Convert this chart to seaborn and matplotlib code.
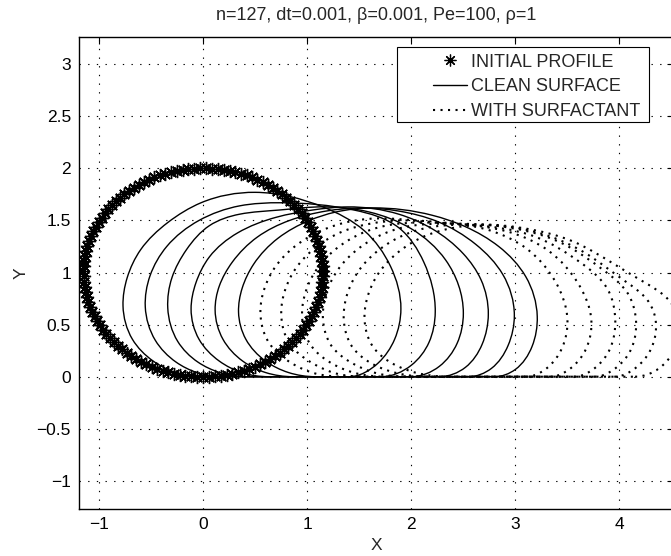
import numpy as np
import matplotlib
matplotlib.use("Agg")
import matplotlib.pyplot as plt
import seaborn as sns
from matplotlib.path import Path
from matplotlib.patches import PathPatch, Rectangle
from matplotlib.lines import Line2D

# ---- data -------------------------------------------------------------
N_POINTS = 127
PROFILE_HALF_WIDTH = 1.15     # horizontal half-width of the initial drop
PROFILE_HEIGHT = 2.0          # drop height

# Drop outlines: each runs counter-clockwise from the front end of the
# wall contact (y = 0) over the drop to the rear end of the contact.
CLEAN_X = [
    [1.40, 1.68, 1.84, 1.90, 1.80, 1.55, 1.15, 0.50, -0.02, -0.34, -0.60, -0.73, -0.77, -0.68, -0.48, -0.26, 0.00],
    [1.71, 2.00, 2.17, 2.23, 2.12, 1.88, 1.45, 0.75, 0.35, -0.04, -0.35, -0.51, -0.556, -0.46, -0.26, -0.06, 0.20],
    [2.00, 2.27, 2.44, 2.50, 2.33, 2.00, 1.60, 1.10, 0.73, 0.35, 0.06, -0.16, -0.30, -0.34, -0.245, -0.05, 0.16, 0.42],
    [2.27, 2.52, 2.68, 2.74, 2.67, 2.50, 2.20, 1.88, 1.39, 1.05, 0.70, 0.33, 0.06, -0.07, -0.116, -0.04, 0.155, 0.37, 0.634],
    [2.55, 2.77, 2.93, 2.99, 2.88, 2.62, 2.25, 1.88, 1.53, 1.18, 0.83, 0.52, 0.28, 0.155, 0.115, 0.19, 0.38, 0.60, 0.865],
    [2.80, 3.00, 3.16, 3.21, 3.10, 2.84, 2.52, 2.20, 1.63, 1.27, 1.02, 0.72, 0.485, 0.375, 0.34, 0.41, 0.60, 0.82, 1.08],
]
CLEAN_Y = [
    [0.0, 0.13, 0.36, 0.65, 1.06, 1.40, 1.63, 1.77, 1.67, 1.48, 1.22, 0.95, 0.68, 0.36, 0.15, 0.04, 0.0],
    [0.0, 0.11, 0.33, 0.62, 1.10, 1.43, 1.60, 1.67, 1.64, 1.50, 1.25, 0.97, 0.67, 0.35, 0.14, 0.04, 0.0],
    [0.0, 0.10, 0.32, 0.61, 1.12, 1.42, 1.58, 1.63, 1.60, 1.56, 1.45, 1.22, 0.95, 0.66, 0.34, 0.14, 0.04, 0.0],
    [0.0, 0.09, 0.31, 0.60, 0.93, 1.18, 1.42, 1.56, 1.63, 1.60, 1.53, 1.38, 1.15, 0.90, 0.65, 0.36, 0.15, 0.04, 0.0],
    [0.0, 0.08, 0.30, 0.59, 0.98, 1.27, 1.49, 1.59, 1.62, 1.59, 1.50, 1.34, 1.10, 0.87, 0.64, 0.36, 0.15, 0.04, 0.0],
    [0.0, 0.07, 0.29, 0.58, 0.96, 1.25, 1.44, 1.55, 1.62, 1.58, 1.50, 1.33, 1.08, 0.85, 0.62, 0.36, 0.15, 0.04, 0.0],
]

SURF_X = [
    [3.10, 3.30, 3.45, 3.50, 3.38, 3.12, 2.70, 2.05, 1.70, 1.41, 1.13, 0.88, 0.69, 0.59, 0.55, 0.63, 0.85, 1.08, 1.38],
    [3.33, 3.53, 3.68, 3.73, 3.60, 3.33, 2.90, 2.25, 1.90, 1.61, 1.33, 1.08, 0.89, 0.79, 0.75, 0.83, 1.05, 1.28, 1.58],
    [3.56, 3.76, 3.91, 3.96, 3.88, 3.62, 3.20, 2.55, 2.10, 1.81, 1.53, 1.28, 1.09, 0.99, 0.95, 1.03, 1.25, 1.48, 1.78],
    [3.76, 3.96, 4.11, 4.16, 4.08, 3.85, 3.45, 2.80, 2.30, 2.01, 1.73, 1.48, 1.29, 1.19, 1.15, 1.23, 1.45, 1.68, 1.98],
    [3.95, 4.15, 4.30, 4.35, 4.28, 4.05, 3.65, 3.00, 2.50, 2.21, 1.93, 1.68, 1.49, 1.39, 1.35, 1.43, 1.65, 1.88, 2.18],
    [4.15, 4.38, 4.53, 4.58, 4.47, 4.25, 3.95, 3.55, 3.05, 2.70, 2.41, 2.13, 1.88, 1.69, 1.59, 1.55, 1.63, 1.85, 2.08, 2.38],
]
SURF_Y = [
    [0.0, 0.08, 0.28, 0.55, 0.92, 1.22, 1.42, 1.50, 1.52, 1.49, 1.40, 1.25, 1.05, 0.85, 0.62, 0.33, 0.13, 0.03, 0.0],
    [0.0, 0.08, 0.27, 0.54, 0.90, 1.20, 1.40, 1.48, 1.50, 1.47, 1.39, 1.24, 1.04, 0.84, 0.61, 0.32, 0.13, 0.03, 0.0],
    [0.0, 0.08, 0.27, 0.53, 0.85, 1.10, 1.34, 1.46, 1.48, 1.46, 1.38, 1.23, 1.03, 0.83, 0.60, 0.31, 0.12, 0.03, 0.0],
    [0.0, 0.08, 0.26, 0.52, 0.80, 1.02, 1.28, 1.45, 1.47, 1.45, 1.37, 1.22, 1.02, 0.82, 0.59, 0.30, 0.12, 0.03, 0.0],
    [0.0, 0.08, 0.26, 0.52, 0.72, 0.92, 1.20, 1.43, 1.46, 1.44, 1.36, 1.21, 1.01, 0.81, 0.58, 0.29, 0.11, 0.03, 0.0],
    [0.0, 0.08, 0.26, 0.50, 0.74, 0.90, 1.08, 1.30, 1.43, 1.46, 1.43, 1.35, 1.20, 1.00, 0.80, 0.57, 0.29, 0.11, 0.03, 0.0],
]

X_TICKS = [-1, 0, 1, 2, 3, 4]
X_TICK_LABELS = ["\u22121", "0", "1", "2", "3", "4"]
Y_TICKS = [-1, -0.5, 0, 0.5, 1, 1.5, 2, 2.5, 3]
Y_TICK_LABELS = ["\u22121", "\u22120.5", "0", "0.5", "1", "1.5", "2", "2.5", "3"]
TITLE = "n=127, dt=0.001, \u03b2=0.001, Pe=100, \u03c1=1"
LEGEND_LABELS = ["INITIAL PROFILE", "CLEAN SURFACE", "WITH SURFACTANT"]


def outline_path(xs, ys):
    """Cubic spline (chord-length parameter, horizontal end tangents) through
    the free-surface points, closed by the straight wall-contact segment."""
    P = np.column_stack([xs, ys]).astype(float)
    n = len(P)
    h = np.linalg.norm(np.diff(P, axis=0), axis=1)
    A = np.zeros((n, n))
    rhs = np.zeros((n, 2))
    A[0, 0] = A[-1, -1] = 1.0
    rhs[0] = rhs[-1] = (1.0, 0.0)
    for i in range(1, n - 1):
        A[i, i - 1] = 1.0 / h[i - 1]
        A[i, i] = 2.0 * (1.0 / h[i - 1] + 1.0 / h[i])
        A[i, i + 1] = 1.0 / h[i]
        rhs[i] = 3.0 * ((P[i] - P[i - 1]) / h[i - 1] ** 2
                        + (P[i + 1] - P[i]) / h[i] ** 2)
    M = np.linalg.solve(A, rhs)
    verts = [P[0]]
    codes = [Path.MOVETO]
    for i in range(n - 1):
        verts += [P[i] + M[i] * h[i] / 3.0, P[i + 1] - M[i + 1] * h[i] / 3.0, P[i + 1]]
        codes += [Path.CURVE4] * 3
    verts.append(P[0])
    codes.append(Path.LINETO)
    return Path(verts, codes)


# ---- figure -----------------------------------------------------------
sns.set_theme(style="white")
plt.rcParams["font.family"] = ["Liberation Sans", "DejaVu Sans"]

fig = plt.figure(figsize=(6.71, 5.56), dpi=100, facecolor="white")
ax = fig.add_axes([79.3 / 671, 47.0 / 556, 594.7 / 671, 472.3 / 556])
ax.set_facecolor("white")

# initial profile markers
theta = np.linspace(0, 2 * np.pi, N_POINTS, endpoint=False)
px = PROFILE_HALF_WIDTH * np.sin(theta)
py = PROFILE_HEIGHT / 2 * (1 - np.cos(theta))
STAR = (8, 2, 0)
sns.lineplot(x=px, y=py, sort=False, estimator=None, ax=ax, color="black",
             linestyle="", marker=STAR, markersize=9.5,
             markeredgewidth=1.0, markeredgecolor="black")

for xs, ys in zip(CLEAN_X, CLEAN_Y):
    ax.add_patch(PathPatch(outline_path(xs, ys), fill=False,
                           edgecolor="black", linewidth=1.0))

SURF_STYLE = (0, (1.0, 2.6))
for xs, ys in zip(SURF_X, SURF_Y):
    ax.add_patch(PathPatch(outline_path(xs, ys), fill=False,
                           edgecolor="black", linewidth=1.5,
                           linestyle=SURF_STYLE, capstyle="butt"))

ax.set_xlim(-1.19, 4.524)
ax.set_ylim(-1.27, 3.264)
ax.set_xticks(X_TICKS)
ax.set_xticklabels(X_TICK_LABELS)
ax.set_yticks(Y_TICKS)
ax.set_yticklabels(Y_TICK_LABELS)
ax.tick_params(direction="in", length=5, width=0.8, top=True, right=True,
               labelsize=12.5, colors="black", pad=6)
ax.grid(True, color="black", linestyle=(0, (1.2, 6.6)), linewidth=0.8)
for s in ax.spines.values():
    s.set_visible(True)
    s.set_color("black")
    s.set_linewidth(1.0)

ax.set_xlabel("X", fontsize=12.5, labelpad=4)
ax.set_ylabel("Y", fontsize=12.5, labelpad=6)
ax.set_title(TITLE, fontsize=13, pad=12)

# legend box and entries
ax.add_patch(Rectangle((0.5337, 0.8194), 0.958 - 0.5337, 0.9776 - 0.8194,
                       transform=ax.transAxes, facecolor="white",
                       edgecolor="black", linewidth=0.8, zorder=4))
handles = [
    Line2D([], [], color="black", linestyle="", marker=STAR,
           markersize=8.5, markeredgewidth=0.9),
    Line2D([], [], color="black", linewidth=1.0),
    Line2D([], [], color="black", linewidth=1.5, linestyle=SURF_STYLE),
]
leg = ax.legend(handles, LEGEND_LABELS, loc="upper left",
                bbox_to_anchor=(0.5948, 0.964), borderaxespad=0, borderpad=0,
                fontsize=13, frameon=False, handlelength=1.88,
                handletextpad=0.2, labelspacing=0.42)
leg.set_zorder(5)

fig.savefig("out.png", dpi=100, facecolor="white")
